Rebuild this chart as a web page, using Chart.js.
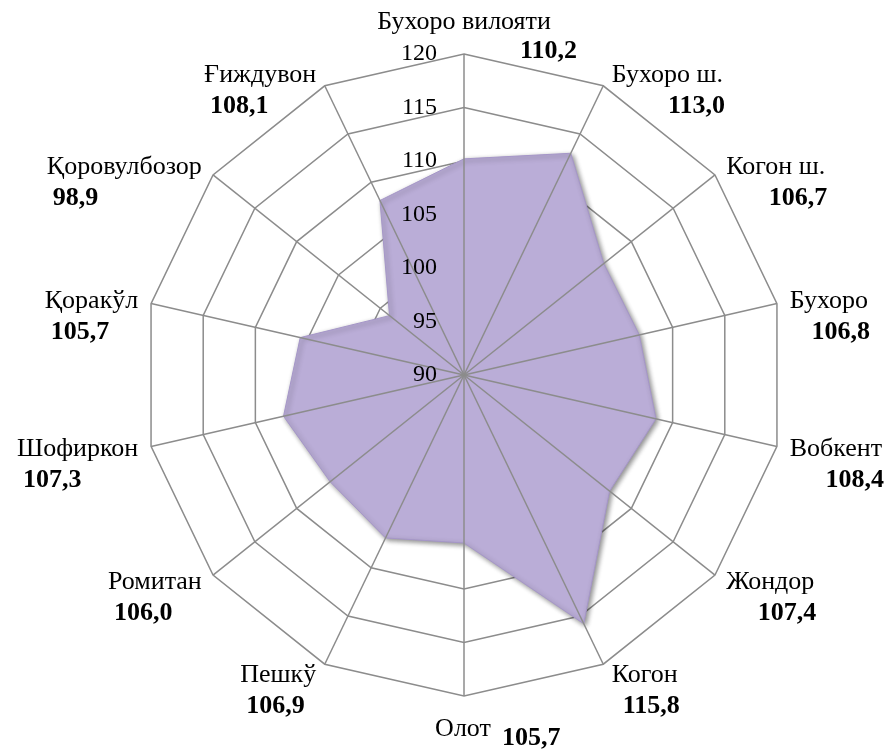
<!DOCTYPE html>
<html>
<head>
<meta charset="utf-8">
<script src="https://cdn.jsdelivr.net/npm/chart.js@4.4.1/dist/chart.umd.min.js"></script>
<style>
  html, body { margin: 0; padding: 0; background: #fff; }
  #wrap { width: 887px; height: 751px; }
</style>
</head>
<body>
<div id="wrap"><canvas id="radarChart" width="887" height="751"></canvas></div>
<script>
const districts = ["Бухоро вилояти", "Бухоро ш.", "Когон ш.", "Бухоро", "Вобкент", "Жондор", "Когон",
  "Олот", "Пешкў", "Ромитан", "Шофиркон", "Қоракўл", "Қоровулбозор", "Ғиждувон"];
const growth = [110.2, 113.0, 106.7, 106.8, 108.4, 107.4, 115.8, 105.7, 106.9, 106.0, 107.3, 105.7, 98.9, 108.1];
const tickValues = [90, 95, 100, 105, 110, 115, 120];

const FONT = "'Liberation Serif', 'Times New Roman', serif";
const GRID = "#8c8c8c";

function fmt(v) {
  return v.toFixed(1).replace(".", ",");
}

// soft shadow under the filled polygon
const shadowPlugin = {
  id: "polyShadow",
  beforeDatasetsDraw(chart) {
    const ctx = chart.ctx;
    ctx.save();
    ctx.shadowColor = "rgba(0,0,0,0.45)";
    ctx.shadowBlur = 5;
    ctx.shadowOffsetX = 2;
    ctx.shadowOffsetY = 2;
  },
  afterDatasetsDraw(chart) {
    chart.ctx.restore();
  }
};

// spokes over the fill, tick numbers and the two-line labels
const labelsPlugin = {
  id: "radarLabels",
  afterDatasetsDraw(chart) {
    const ctx = chart.ctx;
    const r = chart.scales.r;
    const outer = r.getDistanceFromCenterForValue(r.max);
    ctx.save();

    ctx.strokeStyle = GRID;
    ctx.lineWidth = 1.5;
    districts.forEach((d, i) => {
      const p = r.getPointPosition(i, outer);
      ctx.beginPath();
      ctx.moveTo(r.xCenter, r.yCenter);
      ctx.lineTo(p.x, p.y);
      ctx.stroke();
    });

    ctx.fillStyle = "#000";
    ctx.font = "24px " + FONT;
    ctx.textAlign = "right";
    ctx.textBaseline = "middle";
    tickValues.forEach(v => {
      ctx.fillText(String(v), r.xCenter - 27, r.yCenter - r.getDistanceFromCenterForValue(v));
    });

    districts.forEach((name, i) => {
      const p = r.getPointPosition(i, outer);
      const ang = p.angle + Math.PI / 2;
      const s = Math.sin(ang), c = Math.cos(ang);
      const val = fmt(growth[i]);
      ctx.font = "26px " + FONT;
      const nw = ctx.measureText(name).width;
      let nx, ny, nAlign, vx, vy, vAlign;

      if (Math.abs(s) < 0.1) {
        nAlign = "center";
        vAlign = "left";
        if (c > 0) {
          nx = p.x; ny = p.y - 32;
          vx = p.x + 56; vy = p.y - 3;
        } else {
          nx = p.x - 1; ny = p.y + 33;
          vx = p.x + 38; vy = p.y + 42;
        }
      } else {
        const dx = 5 + 8 * Math.abs(s);
        ny = p.y - 12 * c;
        vy = ny + 31;
        if (s > 0) {
          nx = p.x + dx; nAlign = "left";
          vx = nx + nw + 2; vAlign = "right";
        } else {
          nx = p.x - dx; nAlign = "right";
          vx = nx - nw + 6; vAlign = "left";
        }
      }

      ctx.textAlign = nAlign;
      ctx.fillText(name, nx, ny);
      ctx.font = "bold 26px " + FONT;
      ctx.textAlign = vAlign;
      ctx.fillText(val, vx, vy);
    });

    ctx.restore();
  }
};

new Chart(document.getElementById("radarChart"), {
  type: "radar",
  data: {
    labels: districts,
    datasets: [{
      data: growth,
      backgroundColor: "#baadd7",
      borderColor: "#a596c8",
      borderWidth: 1,
      pointRadius: 0,
      fill: true
    }]
  },
  options: {
    responsive: false,
    animation: false,
    layout: { padding: { top: 54, bottom: 55, left: 41, right: 0 } },
    plugins: {
      legend: { display: false },
      tooltip: { enabled: false }
    },
    scales: {
      r: {
        min: 90,
        max: 120,
        ticks: { stepSize: 5, display: false },
        pointLabels: { display: false },
        grid: { color: GRID, lineWidth: 1.5 },
        angleLines: { display: false }
      }
    }
  },
  plugins: [shadowPlugin, labelsPlugin]
});
</script>
</body>
</html>
